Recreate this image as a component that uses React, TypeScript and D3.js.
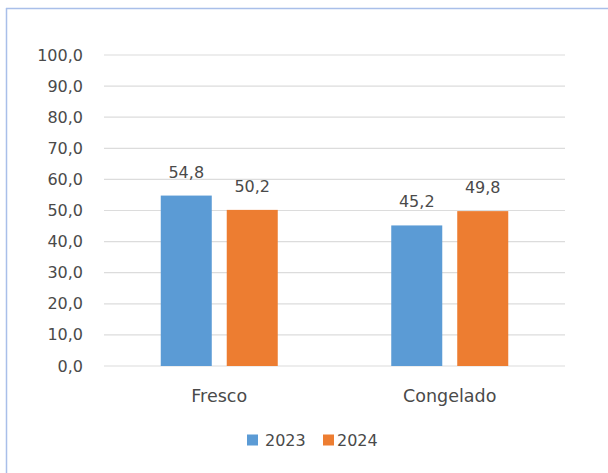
import React from "react";
import * as d3 from "d3";

const categories = ["Fresco", "Congelado"];
const seriesNames = ["2023", "2024"];
const values2023 = [54.8, 45.2];
const values2024 = [50.2, 49.8];
const yTicks = [0, 10, 20, 30, 40, 50, 60, 70, 80, 90, 100];
const colors = ["#5b9bd5", "#ed7d31"];

const W = 608;
const H = 473;
const FONT = "'DejaVu Sans', Verdana, sans-serif";
const TEXT = "#4a4a4a";

export default function App() {
  const x0 = d3.scaleBand<string>().domain(categories).range([104, 565]).padding(0);
  const x1 = d3
    .scaleBand<string>()
    .domain(seriesNames)
    .range([0, x0.bandwidth()])
    .paddingInner(0.227)
    .paddingOuter(0.86);
  const y = d3.scaleLinear().domain([0, 100]).range([366, 55]);
  const fmt = (v: number) => d3.format(".1f")(v).replace(".", ",");
  const series = [values2023, values2024];

  const legendItems = [
    { name: seriesNames[0], sx: 247, tx: 265 },
    { name: seriesNames[1], sx: 323, tx: 337 },
  ];

  return (
    <svg
      width={W}
      height={H}
      style={{ position: "absolute", left: 0, top: 0, background: "#fff" }}
      fontFamily={FONT}
    >
      <rect x={0} y={0} width={W} height={H} fill="#fff" />
      <line x1={6.5} y1={8} x2={6.5} y2={H} stroke="#a9bfe9" strokeWidth={1.5} />
      <line x1={6} y1={8.5} x2={W} y2={8.5} stroke="#a9bfe9" strokeWidth={1.5} />

      {yTicks.map((t) => (
        <g key={t}>
          <line x1={104} x2={565} y1={y(t)} y2={y(t)} stroke="#dcdcdc" strokeWidth={1.2} />
          <text x={83} y={y(t) + 5.5} textAnchor="end" fontSize={16} fill={TEXT}>
            {fmt(t)}
          </text>
        </g>
      ))}

      {categories.map((c, ci) => (
        <g key={c}>
          {seriesNames.map((s, si) => {
            const v = series[si][ci];
            const bx = (x0(c) ?? 0) + (x1(s) ?? 0);
            const bw = x1.bandwidth();
            return (
              <g key={s}>
                <rect x={bx} y={y(v)} width={bw} height={y(0) - y(v)} fill={colors[si]} />
                <text x={bx + bw / 2} y={y(v) - 18} textAnchor="middle" fontSize={16} fill={TEXT}>
                  {fmt(v)}
                </text>
              </g>
            );
          })}
          <text
            x={(x0(c) ?? 0) + x0.bandwidth() / 2}
            y={401.5}
            textAnchor="middle"
            fontSize={17.5}
            fill={TEXT}
          >
            {c}
          </text>
        </g>
      ))}

      {legendItems.map((l, i) => (
        <g key={l.name}>
          <rect x={l.sx} y={434.5} width={11} height={11} fill={colors[i]} />
          <text x={l.tx} y={446} fontSize={16} fill={TEXT}>
            {l.name}
          </text>
        </g>
      ))}
    </svg>
  );
}
